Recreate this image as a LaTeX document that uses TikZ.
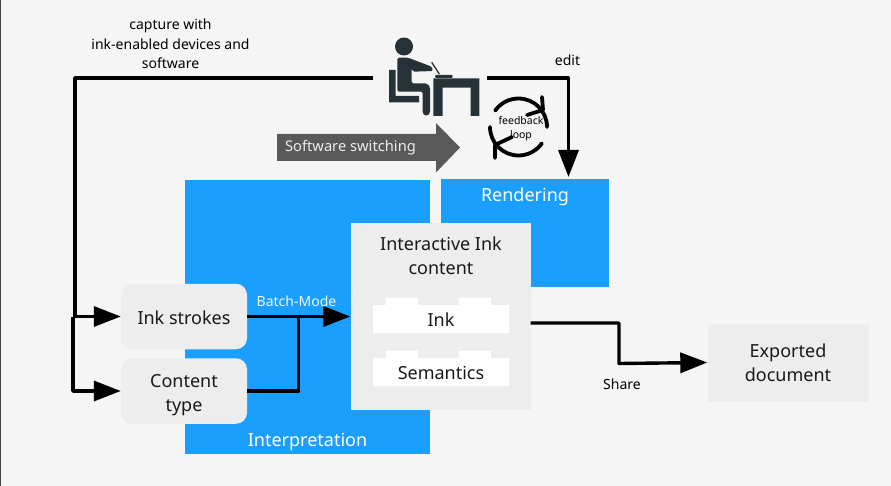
\documentclass[tikz,border=0pt]{standalone}
\usepackage{fontspec}
\setmainfont{Noto Sans}
\usetikzlibrary{arrows.meta,shapes.arrows,calc}
\definecolor{bgc}{HTML}{F5F5F5}
\definecolor{blu}{HTML}{1A9FFF}
\definecolor{boxg}{HTML}{EDEDED}
\definecolor{figc}{HTML}{263238}
\definecolor{arrg}{HTML}{595959}
\tikzset{
 x=1pt,y=-1pt,
 blk/.style={fill=blu,draw=none},
 gbox/.style={fill=boxg,draw=none,align=center,text=black!90,font=\fontsize{18}{24}\selectfont},
 rbox/.style={gbox,rounded corners=11pt,minimum width=126pt},
 lbl/.style={font=\fontsize{14}{19}\selectfont,align=center,text=black},
 wlbl/.style={font=\fontsize{18}{22}\selectfont,text=white},
 conn/.style={line width=3.4pt,line join=round},
 arr/.style={conn,-{Triangle[length=27pt,width=20pt]}},
 fig/.style={fill=figc,draw=none},
 loopa/.style={line width=3.8pt,line cap=round,line join=round},
}
\begin{document}
\begin{tikzpicture}
\useasboundingbox (0,0) rectangle (891,486);
\fill[bgc] (0,0) rectangle (891,486);
\fill[black!75] (0,0) rectangle (1,486);
% blue regions
\path[blk] (185,180) rectangle (430,454);
\path[blk] (441,179) rectangle (609,287);
\node[wlbl] (interp) at (307.5,442) {Interpretation};
\node[wlbl] (rend) at (525,197) {Rendering};
% grey boxes
\node[gbox,minimum width=180pt,minimum height=187pt] (iic) at (440.5,316.5) {};
\node[gbox,anchor=center] (iict) at (441,256) {Interactive Ink\\[0pt]content};
% ink white tabs
\coordinate (inkc) at (441,320);
\coordinate (semc) at (441,373);
\foreach \c in {inkc,semc}{
  \fill[white,shift={(\c)}] (-68,-15) -- (-55.5,-15) -- (-55.5,-22.5) -- (-23,-22.5) -- (-23,-15) -- (17.5,-15) -- (17.5,-22.5) -- (50,-22.5) -- (50,-15) -- (68,-15) -- (68,13) -- (-68,13) -- cycle;
}
\node[gbox,fill=none] (ink) at (441,320) {Ink};
\node[gbox,fill=none] (sem) at (441,373) {Semantics};
\node[rbox,minimum height=65.5pt] (strokes) at (184,316.5) {\rule{0pt}{16pt}Ink strokes};
\node[rbox,minimum height=65.5pt] (ctype) at (184,391) {\rule{0pt}{22pt}Content\\[0pt]type};
\node[gbox,minimum width=161pt,minimum height=78pt] (exp) at (788,362.5) {Exported\\[0pt]document};
% person
\fill[fig] (404,46.5) circle (9);
\fill[fig,rounded corners=1.5pt] (397.3,57.7) -- (408,57.7) -- (431.7,66.7) -- (433,71) -- (413,71.7) -- (411.7,68) -- (411.7,83.3) -- (427,83.5) -- (430,87) -- (430,113) -- (428,115.5) -- (424.5,115.5) -- (422.7,113) -- (422.7,91.7) -- (397.3,91.7) -- cycle;
\fill[fig] (389,70) -- (395.7,70) -- (395.7,96) -- (419,96) -- (419,102.3) -- (389,102.3) -- cycle;
\fill[fig] (433.3,78.5) -- (479.3,78.5) -- (479.3,116) -- (470.7,116) -- (470.7,87.7) -- (442.7,87.7) -- (442.7,116) -- (433.3,116) -- cycle;
\fill[fig,rounded corners=1pt] (435,75) rectangle (452.7,78);
\draw[figc,line width=1.3pt] (431.7,62.3) -- (439.3,74);
% connectors
\coordinate (figl) at (373,78);
\coordinate (figr) at (487,78);
\node[lbl,inner sep=0pt] (cap) at (170.5,44) {capture with\\[0.8pt]ink-enabled devices and\\[-0.3pt]software};
\node[lbl,inner sep=0pt] (edit) at (567.5,60) {edit};
\draw[conn] (figl) -- (75,78) -- (75,316.5);
\draw[arr] (73,316.5) -- (strokes.west);
\draw[arr] (73,316.5) -- (73,391) -- (ctype.west);
\draw[arr] (figr) -- (568.5,78) -- (568.5,177);
\draw[arr] (strokes.east) -- (iic.west |- strokes.east);
\draw[conn] (ctype.east) -- (298.5,391) -- (298.5,316.5);
\node[font=\fontsize{14}{17}\selectfont,text=white!92!blu,inner sep=0pt] (batch) at (296.5,301.5) {Batch-Mode};
\draw[arr] (iic.east |- 0,323) -- (619,323) -- (619,363.5) -- (exp.west);
\node[lbl,inner sep=0pt] (share) at (622,384) {Share};
% software switching
\fill[arrg] (277,134) -- (436,134) -- (436,123) -- (460,147.5) -- (436,172.5) -- (436,161) -- (277,161) -- cycle;
\node[font=\fontsize{14.7}{19}\selectfont,text=white!92!black,inner sep=0pt] (sw) at (350.5,148) {Software switching};
% feedback loop
\draw[loopa] (490,127) arc[start angle=180,end angle=35,radius=28.5];
\draw[loopa] (527,115) -- (543,110) -- (542,97);
\draw[loopa] (547,127) arc[start angle=0,end angle=-145,radius=28.5];
\draw[loopa] (512,137) -- (495,145) -- (495,158);
\node[font=\fontsize{10.5}{14}\selectfont,align=center,inner sep=0pt] (fb) at (521,129) {feedback\\[0pt]loop};
\end{tikzpicture}
\end{document}
